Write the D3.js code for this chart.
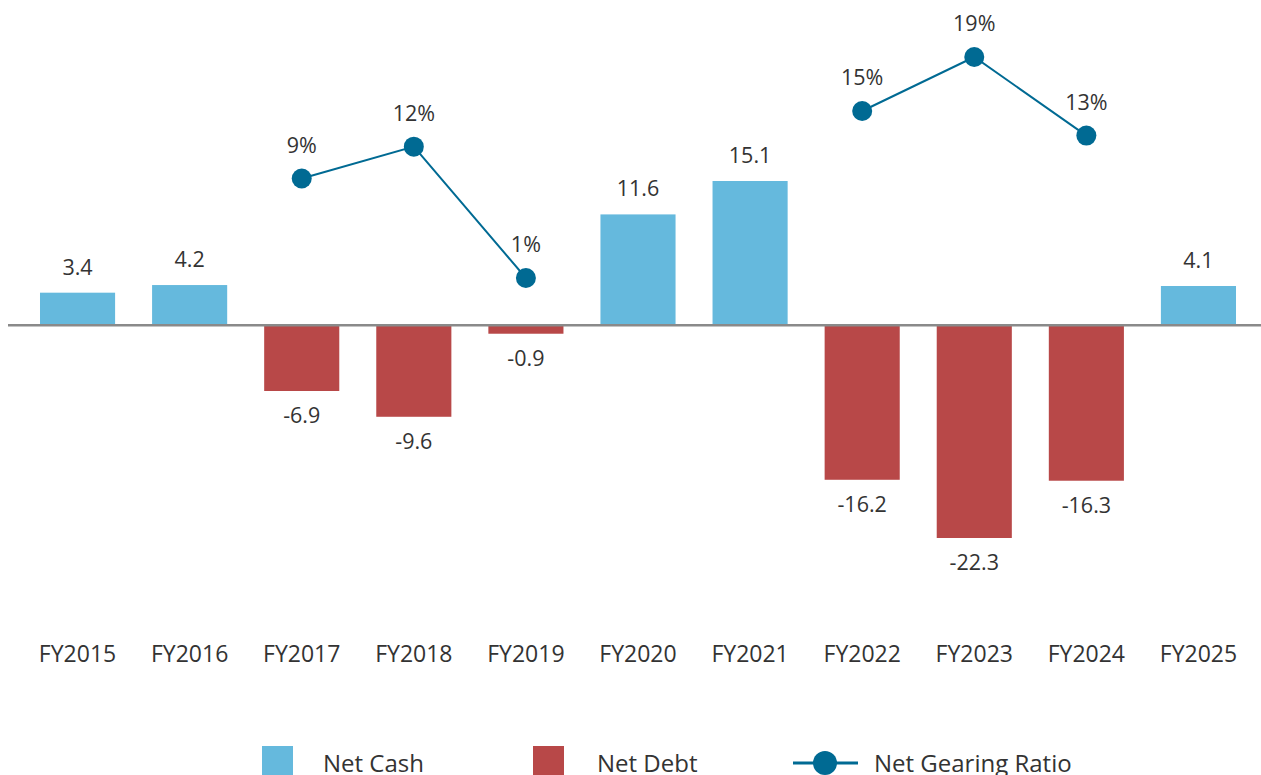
<!DOCTYPE html>
<html>
<head>
<meta charset="utf-8">
<script src="https://cdn.jsdelivr.net/npm/d3@7"></script>
<style>
	body { margin: 0; background: #fff; }
	svg { display: block; font-family: "Open Sans", "Noto Sans", sans-serif; }
</style>
</head>
<body>
<div id="chart"></div>
<script>
'use strict';

// data
const years = ["FY2015","FY2016","FY2017","FY2018","FY2019","FY2020","FY2021","FY2022","FY2023","FY2024","FY2025"];
const netCash = [3.4, 4.2, -6.9, -9.6, -0.9, 11.6, 15.1, -16.2, -22.3, -16.3, 4.1];
const gearing = [null, null, 9.1, 11.7, 1.0, null, null, 14.6, 19.0, 12.6, null];
const gearingLabels = [null, null, "9%", "12%", "1%", null, null, "15%", "19%", "13%", null];

const width = 1261, height = 775;
const cashColor = "#65b9dd", debtColor = "#b84848", lineColor = "#006a93";

const svg = d3.select("#chart")
	.append("svg")
		.attr("width", width)
		.attr("height", height);

const xScale = d3.scaleBand()
	.domain(years)
	.range([21.5, 1254.5])
	.paddingInner(0.33)
	.paddingOuter(0.165);

const yScale = d3.scaleLinear()
	.domain([-22.3, 15.1])
	.range([538, 181]);

const y2Scale = d3.scaleLinear()
	.domain([1, 19])
	.range([278, 57]);

// bars
svg.append("g")
	.selectAll("rect")
	.data(netCash)
	.join("rect")
		.attr("x", (d,i) => xScale(years[i]))
		.attr("width", xScale.bandwidth())
		.attr("y", d => yScale(Math.max(0, d)))
		.attr("height", d => Math.abs(yScale(d) - yScale(0)))
		.attr("fill", d => d >= 0 ? cashColor : debtColor);

// zero line
svg.append("line")
	.attr("x1", 8).attr("x2", width)
	.attr("y1", yScale(0)).attr("y2", yScale(0))
	.attr("stroke", "#8a8a8a")
	.attr("stroke-width", 2.5);

// bar labels
svg.append("g")
	.selectAll("text")
	.data(netCash)
	.join("text")
		.attr("x", (d,i) => xScale(years[i]) + xScale.bandwidth()/2)
		.attr("y", d => d >= 0 ? yScale(d) - 18 : yScale(d) + 32)
		.attr("text-anchor", "middle")
		.attr("font-size", 21.5)
		.attr("fill", "#333")
		.text(d => d.toFixed(1));

// gearing line, broken where there is no value
svg.append("path")
	.datum(gearing)
	.attr("d", d3.line()
		.defined(d => d != null)
		.x((d,i) => xScale(years[i]) + xScale.bandwidth()/2)
		.y(d => y2Scale(d)))
	.attr("fill", "none")
	.attr("stroke", lineColor)
	.attr("stroke-width", 2);

const pts = gearing.map((v,i) => ({v, i})).filter(d => d.v != null);

svg.append("g")
	.selectAll("circle")
	.data(pts)
	.join("circle")
		.attr("cx", d => xScale(years[d.i]) + xScale.bandwidth()/2)
		.attr("cy", d => y2Scale(d.v))
		.attr("r", 10)
		.attr("fill", lineColor);

svg.append("g")
	.selectAll("text")
	.data(pts)
	.join("text")
		.attr("x", d => xScale(years[d.i]) + xScale.bandwidth()/2)
		.attr("y", d => y2Scale(d.v) - 26)
		.attr("text-anchor", "middle")
		.attr("font-size", 21.5)
		.attr("fill", "#333")
		.text(d => gearingLabels[d.i]);

// x axis labels
const xAxis = svg.append("g")
	.attr("transform", "translate(0,646)")
	.call(d3.axisBottom(xScale).tickSize(0).tickPadding(0));
xAxis.select(".domain").remove();
xAxis.selectAll("text")
	.attr("font-size", 23)
	.attr("font-family", "\"Open Sans\", \"Noto Sans\", sans-serif")
	.attr("fill", "#333")
	.attr("dy", "0.71em");

// legend
const legend = svg.append("g").attr("font-size", 24).attr("fill", "#333");

legend.append("rect").attr("x", 262).attr("y", 746).attr("width", 31).attr("height", 31).attr("fill", cashColor);
legend.append("text").attr("x", 323).attr("y", 772).attr("fill", "#333").text("Net Cash");

legend.append("rect").attr("x", 533).attr("y", 746).attr("width", 31).attr("height", 31).attr("fill", debtColor);
legend.append("text").attr("x", 597).attr("y", 772).attr("fill", "#333").text("Net Debt");

legend.append("line").attr("x1", 793).attr("x2", 858).attr("y1", 763).attr("y2", 763)
	.attr("stroke", lineColor).attr("stroke-width", 3);
legend.append("circle").attr("cx", 825).attr("cy", 763).attr("r", 12).attr("fill", lineColor);
legend.append("text").attr("x", 874).attr("y", 772).attr("fill", "#333").text("Net Gearing Ratio");
</script>
</body>
</html>
